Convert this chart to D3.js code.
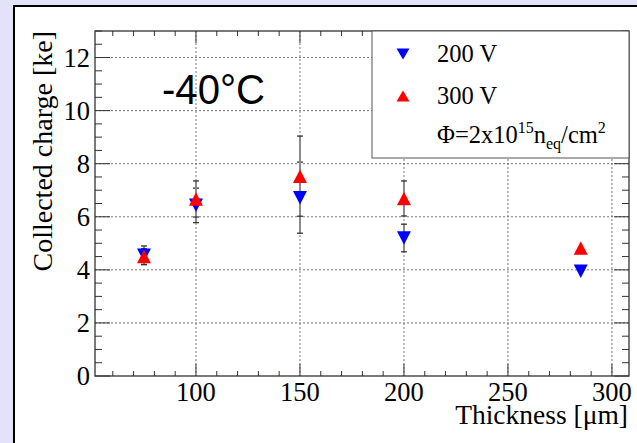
<!DOCTYPE html>
<html><head><meta charset="utf-8">
<script src="https://cdn.jsdelivr.net/npm/d3@7"></script>
<style>body{margin:0;background:#e2e2f8;overflow:hidden}svg{display:block}</style>
</head><body>
<svg id="c" width="637" height="443"></svg>
<script>
// ---- data ----
const thickness = [75, 100, 150, 200, 285];
const charge200 = [4.55, 6.43, 6.72, 5.2, 3.95];
const err200 = [0.35, 0.65, 1.34, 0.52, 0];
const charge300 = [4.5, 6.67, 7.53, 6.69, 4.82];
const err300 = [0.3, 0.68, 1.51, 0.66, 0];
const xMajorTicks = [100, 150, 200, 250, 300];
const yMajorTicks = [0, 2, 4, 6, 8, 10, 12];
const legendLabels = ["200 V", "300 V"];

const svg = d3.select("#c");
const serif = "'Liberation Serif','Times New Roman',serif";
// white panel
svg.append("rect").attr("x", 14).attr("y", 6).attr("width", 700).attr("height", 500)
  .attr("fill", "#fff").attr("stroke", "#000").attr("stroke-width", 2);

const L = 95, R = 629, T = 31, B = 376;
const x = d3.scaleLinear().domain([51.45, 308.2]).range([L, R]);
const y = d3.scaleLinear().domain([0, 13]).range([B, T]);

const g = svg.append("g");
// grid
const grid = g.append("g").attr("stroke", "#777").attr("stroke-width", 1).attr("stroke-dasharray", "2,2");
xMajorTicks.forEach(v => grid.append("line").attr("x1", x(v)).attr("x2", x(v)).attr("y1", T).attr("y2", B));
yMajorTicks.filter(v => v > 0).forEach(v => grid.append("line").attr("x1", L).attr("x2", R).attr("y1", y(v)).attr("y2", y(v)));

// axes with ticks
const xMinor = d3.range(60, 309, 10);
const yMinor = d3.range(0, 13.01, 0.5);
const tk = g.append("g").attr("stroke", "#333").attr("stroke-width", 1);
xMinor.forEach(v => {
  const len = xMajorTicks.includes(v) ? 12 : 5;
  tk.append("line").attr("x1", x(v)).attr("x2", x(v)).attr("y1", B).attr("y2", B - len);
  tk.append("line").attr("x1", x(v)).attr("x2", x(v)).attr("y1", T).attr("y2", T + len);
});
yMinor.forEach(v => {
  const len = (v % 2 === 0) ? 15 : 7;
  tk.append("line").attr("x1", L).attr("x2", L + len).attr("y1", y(v)).attr("y2", y(v));
  tk.append("line").attr("x1", R).attr("x2", R - len).attr("y1", y(v)).attr("y2", y(v));
});
g.append("rect").attr("x", L).attr("y", T).attr("width", R - L).attr("height", B - T)
  .attr("fill", "none").attr("stroke", "#333").attr("stroke-width", 1.3);

// tick labels
xMajorTicks.forEach(v => g.append("text").attr("x", x(v)).attr("y", 401).attr("text-anchor", "middle")
  .attr("font-family", serif).attr("font-size", 26.5).text(v));
yMajorTicks.forEach(v => g.append("text").attr("x", 90).attr("y", y(v) + 9).attr("text-anchor", "end")
  .attr("font-family", serif).attr("font-size", 26.5).text(v));

// axis titles
svg.append("text").attr("x", 628).attr("y", 424).attr("text-anchor", "end")
  .attr("font-family", serif).attr("font-size", 27.5).text("Thickness [\u03bcm]");
svg.append("text").attr("transform", "translate(52,31) rotate(-90)").attr("text-anchor", "end")
  .attr("font-family", serif).attr("font-size", 28).text("Collected charge [ke]");

// -40°C
svg.append("text").attr("x", 162).attr("y", 104).attr("font-family", "'Liberation Sans',Arial,sans-serif")
  .attr("font-size", 42).attr("textLength", 103).attr("lengthAdjust", "spacingAndGlyphs").text("-40\u00b0C");

// error bars
function errBars(vals, errs) {
  thickness.forEach((t, i) => {
    if (!errs[i]) return;
    const cx = x(t), y1 = y(vals[i] + errs[i]), y2 = y(vals[i] - errs[i]);
    g.append("line").attr("x1", cx).attr("x2", cx).attr("y1", y1).attr("y2", y2)
      .attr("stroke", "#8a8a8a").attr("stroke-width", 2);
    [y1, y2].forEach(yy => g.append("line").attr("x1", cx - 3).attr("x2", cx + 3).attr("y1", yy).attr("y2", yy)
      .attr("stroke", "#333").attr("stroke-width", 1.3));
  });
}
errBars(charge200, err200);
errBars(charge300, err300);

const down = (w, h) => `M${-w/2},${-h/2}L${w/2},${-h/2}L0,${h/2}Z`;
const up = (w, h) => `M${-w/2},${h/2}L${w/2},${h/2}L0,${-h/2}Z`;
thickness.forEach((t, i) => g.append("path").attr("d", down(14, 13.5))
  .attr("transform", `translate(${x(t)},${y(charge200[i])})`).attr("fill", "#0000ff"));
thickness.forEach((t, i) => g.append("path").attr("d", up(14, 13.5))
  .attr("transform", `translate(${x(t)},${y(charge300[i])})`).attr("fill", "#ff0000"));

// legend
const lg = svg.append("g");
lg.append("rect").attr("x", 372).attr("y", 31).attr("width", R - 372).attr("height", 127)
  .attr("fill", "#fff").attr("stroke", "#555").attr("stroke-width", 1);
lg.append("path").attr("d", down(13, 11)).attr("transform", "translate(403,54)").attr("fill", "#0000ff");
lg.append("path").attr("d", up(13, 11)).attr("transform", "translate(403,96)").attr("fill", "#ff0000");
lg.append("text").attr("x", 437).attr("y", 62).attr("font-family", serif).attr("font-size", 24.5).text(legendLabels[0]);
lg.append("text").attr("x", 437).attr("y", 104).attr("font-family", serif).attr("font-size", 24.5).text(legendLabels[1]);
const ft = lg.append("text").attr("x", 437).attr("y", 143).attr("font-family", serif).attr("font-size", 24.5);
ft.append("tspan").text("\u03a6=2x10");
ft.append("tspan").attr("font-size", 16).attr("dy", -10).text("15");
ft.append("tspan").attr("dy", 10).text("n");
ft.append("tspan").attr("font-size", 16).attr("dy", 6).text("eq");
ft.append("tspan").attr("dy", -6).text("/cm");
ft.append("tspan").attr("font-size", 16).attr("dy", -10).text("2");
</script>
</body></html>
